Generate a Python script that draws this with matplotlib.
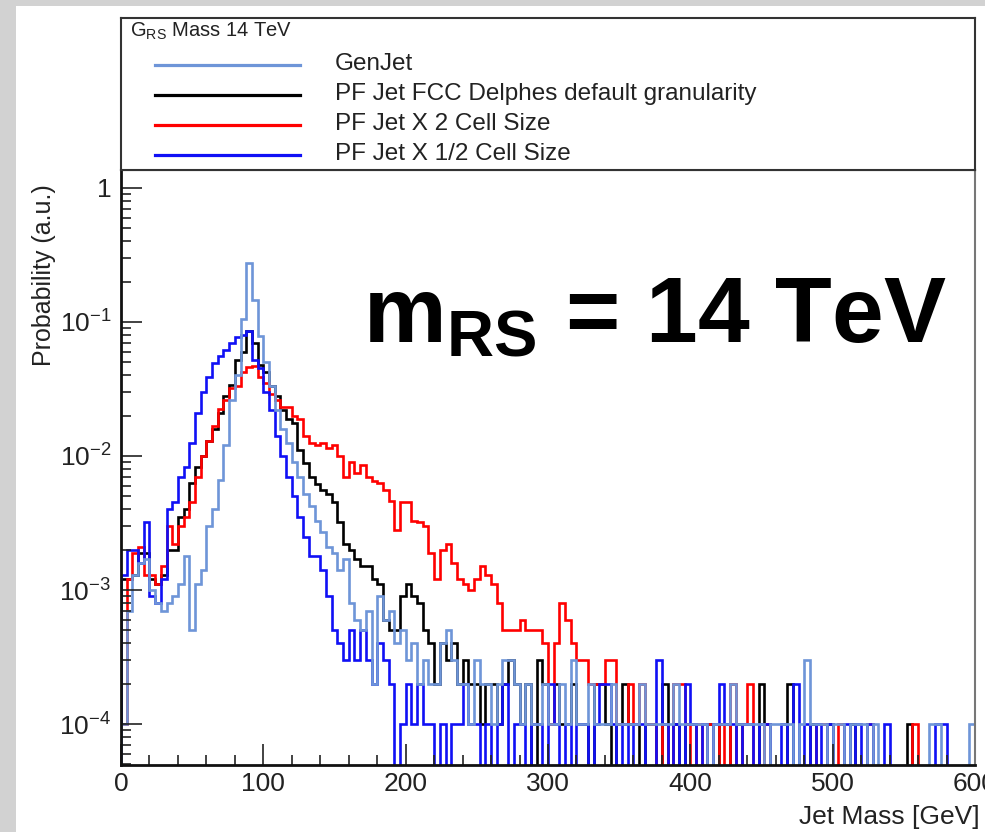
import numpy as np
import matplotlib.pyplot as plt
from matplotlib.patches import Rectangle
from matplotlib.ticker import FixedLocator, FixedFormatter, MultipleLocator, LogLocator, NullFormatter

plt.rcParams['font.family'] = 'Liberation Sans'
plt.rcParams['mathtext.fontset'] = 'custom'
plt.rcParams['mathtext.rm'] = 'Liberation Sans'
plt.rcParams['mathtext.it'] = 'Liberation Sans:italic'
plt.rcParams['mathtext.bf'] = 'Liberation Sans:bold'

# jet mass binning: 150 bins of 4 GeV
bin_edges = np.arange(0, 604, 4)

# bin contents, in units of 1e-4 probability
genjet = [
    1, 7, 13, 16, 17, 10, 8, 7, 8, 9,
    11, 18, 5, 11, 14, 30, 40, 66, 120, 260,
    400, 1050, 2750, 1450, 780, 500, 330, 220, 160, 126,
    90, 70, 52, 42, 33, 27, 21, 19, 14, 17,
    8, 6, 5, 7, 2, 9, 6, 7, 4, 5,
    3, 4, 2, 3, 2, 2, 4, 5, 3, 2,
    2, 1, 3, 2, 2, 1, 2, 3, 3, 2,
    1, 2, 1, 1, 2, 1, 1, 2, 1, 3,
    1, 1, 2, 1, 1, 1, 2, 1, 1, 1,
    1, 2, 1, 1, 1, 1, 1, 2, 1, 1,
    1, 1, 1, 0, 1, 1, 1, 2, 1, 1,
    1, 1, 1, 0, 1, 1, 1, 1, 0, 1,
    3, 1, 1, 1, 0, 1, 1, 0, 1, 1,
    1, 0, 1, 0, 0, 0, 0, 0, 0, 0,
    0, 0, 1, 1, 0, 0, 0, 0, 0, 1,
]
pf_default = [
    12, 12, 13, 19, 19, 12, 11, 13, 20, 20,
    35, 40, 63, 83, 100, 130, 160, 210, 280, 340,
    520, 600, 850, 700, 480, 420, 330, 280, 220, 190,
    176, 110, 89, 70, 62, 56, 52, 45, 32, 22,
    20, 17, 15, 15, 12, 11, 6, 5, 5, 9,
    11, 9, 8, 5, 4, 2, 4, 3, 4, 2,
    3, 2, 2, 1, 2, 2, 1, 2, 3, 2,
    1, 2, 0, 3, 2, 1, 2, 1, 1, 2,
    1, 1, 0, 2, 2, 1, 0, 1, 2, 1,
    1, 0, 1, 1, 0, 2, 0, 1, 0, 1,
    1, 0, 0, 1, 0, 1, 1, 0, 1, 0,
    0, 0, 2, 1, 0, 0, 0, 2, 0, 0,
    0, 1, 0, 0, 1, 0, 0, 0, 1, 0,
    0, 0, 0, 0, 0, 0, 0, 0, 1, 0,
    0, 0, 0, 0, 0, 0, 0, 0, 0, 0,
]
pf_x2_cell = [
    1, 12, 19, 21, 13, 13, 11, 15, 30, 22,
    30, 35, 45, 70, 100, 130, 166, 224, 260, 320,
    330, 420, 460, 470, 390, 350, 290, 260, 231, 230,
    200, 190, 140, 126, 120, 125, 115, 120, 100, 70,
    90, 75, 85, 70, 65, 63, 56, 46, 28, 45,
    45, 33, 32, 30, 19, 12, 20, 22, 16, 12,
    11, 10, 12, 15, 13, 11, 8, 5, 5, 5,
    6, 5, 5, 5, 4, 1, 4, 8, 6, 4,
    3, 3, 2, 2, 2, 3, 3, 1, 1, 2,
    1, 2, 1, 1, 0, 1, 0, 2, 2, 1,
    0, 1, 0, 1, 0, 1, 0, 2, 0, 1,
    2, 0, 0, 1, 0, 0, 0, 0, 0, 0,
    0, 0, 1, 1, 0, 0, 1, 0, 0, 0,
    0, 1, 0, 0, 0, 0, 0, 0, 0, 1,
    0, 0, 0, 0, 0, 0, 0, 0, 0, 0,
]
pf_half_cell = [
    13, 20, 20, 16, 32, 9, 8, 12, 40, 45,
    70, 83, 125, 210, 300, 390, 495, 560, 620, 700,
    775, 800, 850, 520, 450, 300, 220, 140, 100, 70,
    50, 35, 25, 18, 18, 14, 9, 5, 4, 3,
    5, 3, 5, 3, 2, 4, 3, 2, 0, 1,
    2, 1, 2, 1, 1, 0, 1, 0, 1, 1,
    2, 1, 1, 0, 1, 0, 1, 2, 0, 1,
    1, 0, 1, 1, 0, 2, 1, 0, 1, 0,
    1, 1, 0, 1, 2, 2, 1, 0, 1, 0,
    1, 1, 0, 0, 3, 1, 0, 1, 0, 2,
    1, 0, 1, 0, 1, 2, 1, 1, 0, 1,
    1, 0, 1, 1, 0, 0, 1, 0, 2, 0,
    1, 0, 1, 0, 1, 0, 0, 1, 0, 1,
    0, 1, 0, 0, 1, 0, 0, 0, 0, 0,
    0, 0, 0, 1, 1, 0, 0, 0, 0, 0,
]

series = [
    ("PF Jet FCC Delphes default granularity", pf_default, "#000000"),
    ("PF Jet X 2 Cell Size", pf_x2_cell, "#ff0000"),
    ("PF Jet X 1/2 Cell Size", pf_half_cell, "#1010f5"),
    ("GenJet", genjet, "#6e95d8"),
]
legend_order = ["GenJet", "PF Jet FCC Delphes default granularity",
                "PF Jet X 2 Cell Size", "PF Jet X 1/2 Cell Size"]

W, H = 985, 832
fig = plt.figure(figsize=(W / 100, H / 100), dpi=100)
fig.patch.set_facecolor("#d2d2d2")
fig.add_artist(Rectangle((16 / W, 0), 1, 1 - 6 / H, transform=fig.transFigure,
                         facecolor="white", edgecolor="none", zorder=-5))

x0, x1 = 121, 975
y_top, y_bot = 170, 765
ax = fig.add_axes([x0 / W, 1 - y_bot / H, (x1 - x0) / W, (y_bot - y_top) / H])

for name, vals, col in series:
    p = np.array(vals, dtype=float) * 1e-4
    p = np.where(p > 0, p, 1e-9)  # empty bins drop to the frame bottom
    ax.stairs(p, bin_edges, baseline=1e-9, color=col, lw=1.9, label=name)

ax.set_yscale("log")
ax.set_xlim(0, 600)
ax.set_ylim(4.95e-5, 1.36)

ax.yaxis.set_major_locator(FixedLocator([1e-4, 1e-3, 1e-2, 1e-1, 1]))
ax.yaxis.set_major_formatter(FixedFormatter(
    [r"$\mathdefault{10^{-4}}$", r"$\mathdefault{10^{-3}}$",
     r"$\mathdefault{10^{-2}}$", r"$\mathdefault{10^{-1}}$", "1"]))
ax.yaxis.set_minor_locator(LogLocator(base=10, subs=np.arange(2, 10)))
ax.yaxis.set_minor_formatter(NullFormatter())
ax.xaxis.set_major_locator(MultipleLocator(100))
ax.xaxis.set_minor_locator(MultipleLocator(20))

ax.tick_params(which="both", direction="in", top=False, right=False,
               colors="#222222", labelsize=19, width=1.2)
ax.tick_params(which="major", length=15)
ax.tick_params(which="minor", length=7)
ax.tick_params(axis="y", pad=7)
ax.tick_params(axis="x", pad=5)
for s in ["left", "bottom"]:
    ax.spines[s].set_linewidth(2.0)
    ax.spines[s].set_color("#111111")
ax.spines["right"].set_color("#777777")
ax.spines["right"].set_linewidth(1.5)
ax.spines["top"].set_color("#333333")
ax.spines["top"].set_linewidth(1.5)

fig.text(44 / W, 1 - 275 / H, "Probability (a.u.)", rotation=90,
         ha="center", va="center", fontsize=18, color="#222222")
fig.text(980 / W, 1 - 817 / H, "Jet Mass [GeV]", ha="right", va="center",
         fontsize=19, color="#222222")

fig.text(363 / W, 1 - 343 / H, r"$\mathbf{m_{RS}}$ = 14 TeV",
         fontsize=67, fontweight="bold", ha="left", va="baseline")

# legend box above the frame
leg_top = 18
lax = fig.add_axes([x0 / W, 1 - y_top / H, (x1 - x0) / W, (y_top - leg_top) / H])
lax.set_xlim(x0, x1)
lax.set_ylim(y_top, leg_top)
lax.set_xticks([])
lax.set_yticks([])
for s in lax.spines.values():
    s.set_linewidth(1.5)
    s.set_color("#333333")

lax.text(130, 31, r"G$_{\mathregular{RS}}$ Mass 14 TeV", fontsize=14.5,
         ha="left", va="center", color="#222222")
colors = {name: col for name, _, col in series}
for k, name in enumerate(legend_order):
    yy = 65 + k * 30
    lax.plot([155, 300], [yy, yy], color=colors[name], lw=2.3)
    lax.text(335, yy - 1, name, fontsize=17.5, ha="left", va="center",
             color="#222222")

fig.savefig("out.png", dpi=100, facecolor=fig.get_facecolor())
